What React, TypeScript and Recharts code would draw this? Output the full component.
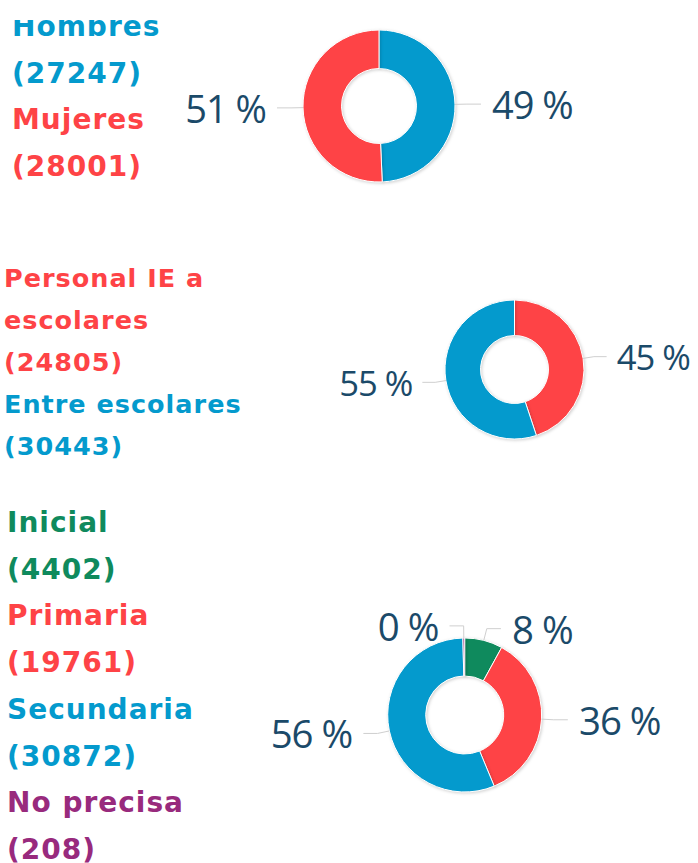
import { Cell, Pie, PieChart } from "recharts";

const BLUE = "#049acd";
const RED = "#fe4346";
const GREEN = "#0f8a5d";
const PURPLE = "#982a7d";
const LABEL = "#1b4a69";
const LINE = "#cfcfcf";

// sexo
const sexNames = ["Hombres", "Mujeres"];
const sexValues = [27247, 28001];
const sexColors = [BLUE, RED];

// tipo de agresor
const typeNames = ["Personal IE a escolares", "Entre escolares"];
const typeValues = [24805, 30443];
const typeColors = [RED, BLUE];

// nivel educativo
const levelNames = ["Inicial", "Primaria", "Secundaria", "No precisa"];
const levelValues = [4402, 19761, 30872, 208];
const levelColors = [GREEN, RED, BLUE, PURPLE];

const RAD = Math.PI / 180;

const rows = (names: string[], values: number[]) =>
  names.map((name, i) => ({ name, value: values[i] }));

// highcharts-like labels: short elbow connector, then horizontal
function makeLabel(scale: number) {
  return (p: any) => {
    const { cx, cy, midAngle, outerRadius, percent } = p;
    const cos = Math.cos(midAngle * RAD);
    const sin = Math.sin(midAngle * RAD);
    const side = cos >= 0 ? 1 : -1;
    const r2 = outerRadius + 12 * scale;
    const ex = cx + outerRadius * cos;
    const ey = cy - outerRadius * sin;
    const ly = cy - r2 * sin;
    const bx = cx + r2 * cos;
    const tx = bx + side * 25 * scale;
    const endX = tx - side * 11 * scale;
    return (
      <g>
        <polyline
          points={`${ex},${ey} ${bx},${ly} ${endX},${ly}`}
          fill="none"
          stroke={LINE}
          strokeWidth={1}
        />
        <text
          x={tx}
          y={ly}
          textAnchor={side > 0 ? "start" : "end"}
          dominantBaseline="central"
          fill={LABEL}
          fontFamily="'Open Sans', sans-serif"
          fontWeight={500}
          fontSize={38 * scale}
          letterSpacing={-1}
        >
          {`${Math.round(percent * 100)} %`}
        </text>
      </g>
    );
  };
}

function Legend({
  names,
  values,
  colors,
  top,
  left,
  fontSize,
  lineHeight,
  clipTop = 0,
}: {
  names: string[];
  values: number[];
  colors: string[];
  top: number;
  left: number;
  fontSize: number;
  lineHeight: number;
  clipTop?: number;
}) {
  return (
    <div
      style={{
        position: "absolute",
        top,
        left,
        width: 260,
        fontFamily: "'DejaVu Sans', Verdana, sans-serif",
        fontWeight: "bold",
        fontSize,
        lineHeight: `${lineHeight}px`,
        letterSpacing: 1,
        clipPath: clipTop ? `inset(${clipTop}px 0 0 0)` : undefined,
      }}
    >
      {names.map((n, i) => (
        <div key={n} style={{ color: colors[i] }}>
          <div>{n}</div>
          <div>({values[i]})</div>
        </div>
      ))}
    </div>
  );
}

export default function App() {
  const ring = {
    startAngle: 90,
    endAngle: -270,
    dataKey: "value",
    stroke: "#ffffff",
    strokeWidth: 1,
    labelLine: false,
    isAnimationActive: false,
  };
  return (
    <div
      style={{
        position: "absolute",
        left: 0,
        top: 0,
        width: 698,
        height: 863,
        background: "#fff",
        overflow: "hidden",
      }}
    >
      <style>{`.recharts-pie-sector path { filter: drop-shadow(1px 1px 1.5px rgba(0,0,0,0.18)); }`}</style>
      <Legend
        names={sexNames}
        values={sexValues}
        colors={sexColors}
        top={4}
        left={12}
        fontSize={28}
        lineHeight={46.5}
        clipTop={16}
      />
      <Legend
        names={typeNames}
        values={typeValues}
        colors={typeColors}
        top={257}
        left={4}
        fontSize={25.5}
        lineHeight={42}
      />
      <Legend
        names={levelNames}
        values={levelValues}
        colors={levelColors}
        top={500}
        left={7}
        fontSize={28}
        lineHeight={46.7}
      />
      <div style={{ position: "absolute", left: 0, top: 0 }}>
        <PieChart width={698} height={863} margin={{ top: 0, right: 0, bottom: 0, left: 0 }}>
          <Pie
            {...ring}
            data={rows(sexNames, sexValues)}
            cx={379}
            cy={106}
            innerRadius={37.5}
            outerRadius={76}
            label={makeLabel(1)}
          >
            {sexColors.map((c, i) => (
              <Cell key={i} fill={c} />
            ))}
          </Pie>
          <Pie
            {...ring}
            data={rows(typeNames, typeValues)}
            cx={514.5}
            cy={369.5}
            innerRadius={34}
            outerRadius={69.5}
            label={makeLabel(0.91)}
          >
            {typeColors.map((c, i) => (
              <Cell key={i} fill={c} />
            ))}
          </Pie>
          <Pie
            {...ring}
            data={rows(levelNames, levelValues)}
            cx={464.7}
            cy={715}
            innerRadius={39}
            outerRadius={77}
            label={makeLabel(1.01)}
          >
            {levelColors.map((c, i) => (
              <Cell key={i} fill={c} />
            ))}
          </Pie>
        </PieChart>
      </div>
    </div>
  );
}
